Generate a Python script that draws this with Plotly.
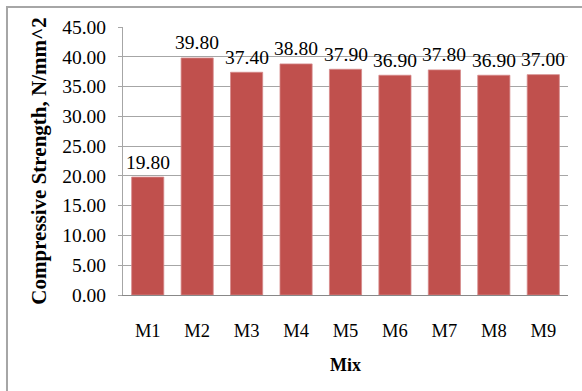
import plotly.graph_objects as go

# Compressive strength per mix
mixes = ["M1", "M2", "M3", "M4", "M5", "M6", "M7", "M8", "M9"]
strength = [19.80, 39.80, 37.40, 38.80, 37.90, 36.90, 37.80, 36.90, 37.00]
y_ticks = [0, 5, 10, 15, 20, 25, 30, 35, 40, 45]
y_tick_labels = [f"{v:.2f}" for v in y_ticks]

FONT = "Liberation Serif"
BAR = "#C0504D"

fig = go.Figure()
fig.add_trace(go.Bar(
    x=mixes,
    y=strength,
    marker=dict(color=BAR, line=dict(color="#D6898A", width=0.8)),
    hoverinfo="x+y",
))

# value labels above each bar
for m, v in zip(mixes, strength):
    fig.add_annotation(
        x=m, y=v, text=f"{v:.2f}", showarrow=False,
        yanchor="middle", yshift=15,
        font=dict(family=FONT, size=19.5, color="#000000"),
    )

# outer chart frame
fig.add_shape(
    type="rect", xref="paper", yref="paper",
    x0=-0.2607, x1=1.06, y0=-0.40, y1=1.0746,
    line=dict(color="#A6A6A6", width=2), fillcolor="rgba(0,0,0,0)",
    layer="below",
)

fig.update_layout(
    width=582, height=391,
    margin=dict(l=123, r=14, t=27, b=96),
    paper_bgcolor="white", plot_bgcolor="white",
    bargap=0.35,
    showlegend=False,
    font=dict(family=FONT, size=18, color="#000000"),
    xaxis=dict(
        title=dict(text="<b>Mix</b>", font=dict(family=FONT, size=18), standoff=18),
        showgrid=False, showline=True, linecolor="#888888", linewidth=1,
        ticks="", ticklabelstandoff=19,
        tickfont=dict(family=FONT, size=18.5),
    ),
    yaxis=dict(
        title=dict(text="<b>Compressive Strength, N/mm^2</b>",
                   font=dict(family=FONT, size=21), standoff=9),
        range=[0, 45], tickvals=y_ticks, ticktext=y_tick_labels,
        showgrid=True, gridcolor="#A6A6A6", gridwidth=1,
        showline=True, linecolor="#A6A6A6", linewidth=1,
        ticks="outside", ticklen=4, tickcolor="#A6A6A6",
        ticklabelstandoff=8,
        tickfont=dict(family=FONT, size=19.5),
        zeroline=False,
    ),
)

fig.write_html("out.html")
